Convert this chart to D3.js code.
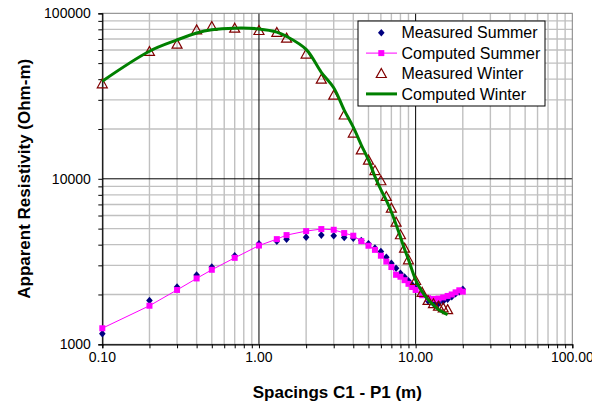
<!DOCTYPE html>
<html>
<head>
<meta charset="utf-8">
<script src="https://cdn.jsdelivr.net/npm/d3@7"></script>
<style>
  body { margin: 0; background: #fff; }
  text { font-family: "Liberation Sans", Arial, sans-serif; }
</style>
</head>
<body>
<svg id="chart"></svg>
<script>
// Spacings (m) and apparent resistivity (Ohm-m)
const winterX = [0.1, 0.2, 0.3, 0.4, 0.5, 0.7, 1, 1.3, 1.5, 2, 2.5, 3, 3.5, 4, 4.5, 5, 5.5, 6, 6.5, 7, 7.5, 8, 8.5, 9, 10, 11, 12, 13, 14, 15, 16];
const measuredWinter = [37500, 58800, 65100, 79400, 83200, 81300, 78700, 76600, 70800, 56700, 40000, 32000, 24300, 18900, 14960, 12970, 11220, 9730, 7820, 6650, 5470, 4590, 3810, 3240, 2430, 2060, 1840, 1760, 1700, 1660, 1620];
const computedWinter = [38900, 59000, 69000, 76000, 79500, 81300, 80500, 77000, 72500, 60500, 44000, 35500, 26000, 20500, 16000, 13000, 10300, 8600, 7400, 6300, 5300, 4450, 3750, 3250, 2450, 2080, 1860, 1730, 1620, 1560, 1510];

const summerX = [0.1, 0.2, 0.3, 0.4, 0.5, 0.7, 1, 1.3, 1.5, 2, 2.5, 3, 3.5, 4, 4.5, 5, 5.5, 6, 6.5, 7, 7.5, 8, 8.5, 9, 9.5, 10, 11, 12, 13, 14, 15, 16, 17, 18, 19, 20];
const measuredSummer = [1160, 1840, 2220, 2620, 2930, 3430, 4050, 4200, 4320, 4440, 4570, 4530, 4420, 4380, 4240, 4050, 3810, 3640, 3360, 3090, 2880, 2690, 2550, 2420, 2290, 2190, 2020, 1830, 1760, 1760, 1820, 1870, 1940, 2020, 2080, 2150];
const computedSummer = [1250, 1710, 2130, 2500, 2820, 3330, 3950, 4320, 4570, 4830, 4970, 4920, 4700, 4530, 4200, 3940, 3720, 3430, 3160, 2930, 2630, 2560, 2440, 2320, 2220, 2130, 1980, 1900, 1880, 1890, 1920, 1960, 2000, 2060, 2120, 2080];

const xTickValues = [0.1, 1, 10, 100];
const xTickLabels = ["0.10", "1.00", "10.00", "100.00"];
const yTickValues = [1000, 10000, 100000];
const yTickLabels = ["1000", "10000", "100000"];

const legendNames = ["Measured Summer", "Computed Summer", "Measured Winter", "Computed Winter"];

const width = 592;
const height = 406;
const margin = { top: 13.3, right: 19.7, bottom: 61.7, left: 102.3 };
const plotW = width - margin.left - margin.right;
const plotH = height - margin.top - margin.bottom;

const svg = d3.select("#chart")
    .attr("width", width)
    .attr("height", height);

const g = svg.append("g")
    .attr("transform", `translate(${margin.left},${margin.top})`);

const x = d3.scaleLog().domain([0.1, 100]).range([0, plotW]);
const y = d3.scaleLog().domain([1000, 100000]).range([plotH, 0]);

// all 1..9 multiples per decade
const minorX = [];
[0.1, 1, 10].forEach(d => { for (let k = 1; k < 10; k++) minorX.push(d * k); });
minorX.push(100);
const minorY = [];
[1000, 10000].forEach(d => { for (let k = 1; k < 10; k++) minorY.push(d * k); });
minorY.push(100000);

// gray minor gridlines
g.selectAll(".gx").data(minorX.filter(d => xTickValues.indexOf(d) < 0))
  .enter().append("line")
    .attr("x1", d => x(d)).attr("x2", d => x(d))
    .attr("y1", 0).attr("y2", plotH)
    .attr("stroke", "#c0c0c0").attr("stroke-width", 1.4);
g.selectAll(".gy").data(minorY.filter(d => yTickValues.indexOf(d) < 0))
  .enter().append("line")
    .attr("y1", d => y(d)).attr("y2", d => y(d))
    .attr("x1", 0).attr("x2", plotW)
    .attr("stroke", "#c0c0c0").attr("stroke-width", 1.4);

// black major gridlines
g.selectAll(".mx").data([1, 10])
  .enter().append("line")
    .attr("x1", d => x(d)).attr("x2", d => x(d))
    .attr("y1", 0).attr("y2", plotH)
    .attr("stroke", "#000").attr("stroke-width", 1);
g.selectAll(".my").data([10000])
  .enter().append("line")
    .attr("y1", d => y(d)).attr("y2", d => y(d))
    .attr("x1", 0).attr("x2", plotW)
    .attr("stroke", "#000").attr("stroke-width", 1);

// plot area border
g.append("rect")
    .attr("width", plotW).attr("height", plotH)
    .attr("fill", "none").attr("stroke", "#808080").attr("stroke-width", 1);

// axes
const xAxis = g.append("g")
    .attr("transform", `translate(0,${plotH})`)
    .call(d3.axisBottom(x).tickValues(minorX).tickSize(4).tickFormat(""));
const yAxis = g.append("g")
    .call(d3.axisLeft(y).tickValues(minorY).tickSize(4).tickFormat(""));
[xAxis, yAxis].forEach(a => {
    a.select(".domain").attr("stroke", "#000").attr("stroke-width", 1.2);
    a.selectAll(".tick line").attr("stroke", "#000");
});

g.selectAll(".xl").data(xTickValues)
  .enter().append("text")
    .attr("x", d => x(d)).attr("y", plotH + 18)
    .attr("text-anchor", "middle")
    .attr("font-size", 14)
    .attr("fill", "#000")
    .text((d, i) => xTickLabels[i]);
g.selectAll(".yl").data(yTickValues)
  .enter().append("text")
    .attr("x", -11.5).attr("y", d => y(d) + 5)
    .attr("text-anchor", "end")
    .attr("font-size", 14)
    .attr("fill", "#000")
    .text((d, i) => yTickLabels[i]);

// axis titles
svg.append("text")
    .attr("x", margin.left + plotW / 2).attr("y", 398)
    .attr("text-anchor", "middle")
    .attr("font-size", 17).attr("font-weight", "bold")
    .text("Spacings C1 - P1 (m)");
svg.append("text")
    .attr("transform", `translate(30,${margin.top + plotH / 2}) rotate(-90)`)
    .attr("text-anchor", "middle")
    .attr("font-size", 17).attr("font-weight", "bold")
    .text("Apparent Resistivity (Ohm-m)");

// marker shapes
const diamondPath = "M0,-3.8L3.3,0L0,3.8L-3.3,0Z";
const squarePath = "M-3,-3H3V3H-3Z";
const trianglePath = "M0,-5L5,4L-5,4Z";

const summerData = summerX.map((d, i) => ({ x: d, m: measuredSummer[i], c: computedSummer[i] }));
const winterData = winterX.map((d, i) => ({ x: d, m: measuredWinter[i], c: computedWinter[i] }));

// Measured Summer
g.selectAll(".ms").data(summerData)
  .enter().append("path")
    .attr("d", diamondPath)
    .attr("transform", d => `translate(${x(d.x)},${y(d.m)})`)
    .attr("fill", "#000080");

// Computed Summer
g.append("path")
    .datum(summerData)
    .attr("fill", "none")
    .attr("stroke", "#ff00ff")
    .attr("stroke-width", 1)
    .attr("d", d3.line().x(d => x(d.x)).y(d => y(d.c)));
g.selectAll(".cs").data(summerData)
  .enter().append("path")
    .attr("d", squarePath)
    .attr("transform", d => `translate(${x(d.x)},${y(d.c)})`)
    .attr("fill", "#ff00ff");

// Measured Winter
g.selectAll(".mw").data(winterData)
  .enter().append("path")
    .attr("d", trianglePath)
    .attr("transform", d => `translate(${x(d.x)},${y(d.m)})`)
    .attr("fill", "none")
    .attr("stroke", "#800000")
    .attr("stroke-width", 1.2);

// Computed Winter
g.append("path")
    .datum(winterData)
    .attr("fill", "none")
    .attr("stroke", "#008000")
    .attr("stroke-width", 3)
    .attr("d", d3.line().curve(d3.curveCatmullRom).x(d => x(d.x)).y(d => y(d.c)));

// legend
const legend = svg.append("g").attr("transform", "translate(358,21)");
legend.append("rect")
    .attr("width", 187).attr("height", 85)
    .attr("fill", "#fff").attr("stroke", "#000").attr("stroke-width", 1);

const item = legend.selectAll(".item").data(legendNames)
  .enter().append("g")
    .attr("transform", (d, i) => `translate(0,${11.7 + i * 20.4})`);
item.append("text")
    .attr("x", 43.5).attr("y", 5.6)
    .attr("font-size", 16)
    .attr("fill", "#000")
    .text(d => d);

const lx = 23.3;
legend.append("path").attr("d", diamondPath)
    .attr("transform", `translate(${lx},11.7)`).attr("fill", "#000080");
legend.append("line")
    .attr("x1", 8).attr("x2", 39).attr("y1", 32.1).attr("y2", 32.1)
    .attr("stroke", "#ff00ff").attr("stroke-width", 1);
legend.append("path").attr("d", squarePath)
    .attr("transform", `translate(${lx},32.1)`).attr("fill", "#ff00ff");
legend.append("path").attr("d", trianglePath)
    .attr("transform", `translate(${lx},52.5)`)
    .attr("fill", "none").attr("stroke", "#800000").attr("stroke-width", 1.2);
legend.append("line")
    .attr("x1", 8).attr("x2", 39).attr("y1", 72.9).attr("y2", 72.9)
    .attr("stroke", "#008000").attr("stroke-width", 3);
</script>
</body>
</html>
